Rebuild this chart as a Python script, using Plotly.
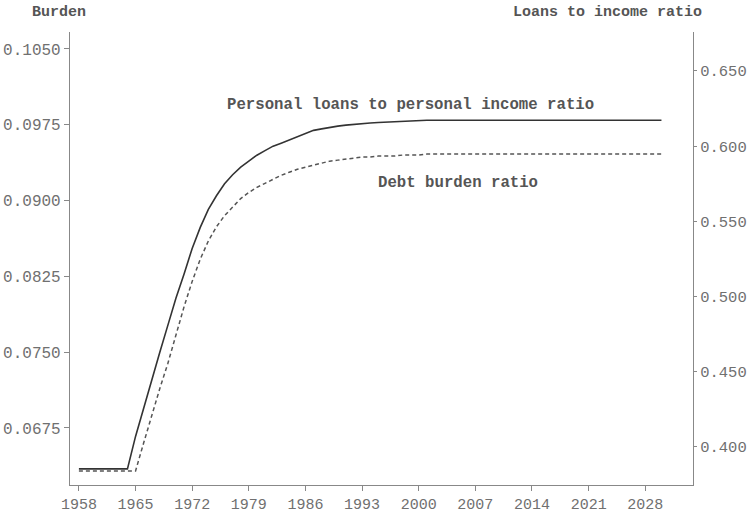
import plotly.graph_objects as go

years = list(range(1958, 2031))

loans_ratio = [0.3854] * 7 + [
    0.407, 0.426, 0.445, 0.463, 0.481, 0.499, 0.515, 0.532, 0.546, 0.558,
    0.567, 0.575, 0.581, 0.586, 0.590, 0.594, 0.597, 0.600, 0.602, 0.604,
    0.606, 0.608, 0.6105, 0.6115, 0.6125, 0.6133, 0.614, 0.6146, 0.615, 0.6154,
    0.6157, 0.616, 0.6162, 0.6164, 0.6166, 0.6168,
] + [0.6172] * 30

burden_ratio = [0.06324] * 8 + [
    0.0660, 0.0688, 0.0714, 0.0739, 0.0767, 0.0795, 0.0820, 0.0842, 0.0860,
    0.0874, 0.0885, 0.0894, 0.0902, 0.0908, 0.0913, 0.0917, 0.0921, 0.0925,
    0.0928, 0.0931, 0.0933, 0.0935, 0.0937, 0.0939, 0.0940, 0.0941, 0.0942,
    0.0943, 0.0943, 0.0944, 0.0944, 0.0944, 0.0945, 0.0945, 0.0945,
] + [0.0946] * 30

x_ticks = list(range(1958, 2029, 7))
left_ticks = [0.0675, 0.0750, 0.0825, 0.0900, 0.0975, 0.1050]
right_ticks = [0.400, 0.450, 0.500, 0.550, 0.600, 0.650]

FONT = "Liberation Mono"

fig = go.Figure()
fig.add_trace(go.Scatter(
    x=years, y=burden_ratio, mode="lines", yaxis="y",
    line=dict(color="#555555", width=1.5, dash="4px,3px"),
    name="Debt burden ratio"))
fig.add_trace(go.Scatter(
    x=years, y=loans_ratio, mode="lines", yaxis="y2",
    line=dict(color="#333333", width=1.6),
    name="Personal loans to personal income ratio"))

axis_common = dict(showgrid=False, zeroline=False, showline=True,
                   linecolor="#888888", linewidth=1.2, ticks="outside",
                   tickcolor="#888888", automargin=False)

yfont = dict(family=FONT, size=16, color="#707070")
y2font = dict(family=FONT, size=15.5, color="#707070")
xfont = dict(family=FONT, size=15, color="#707070")

fig.update_layout(
    width=747, height=518,
    margin=dict(l=70, r=54, t=32, b=33, autoexpand=False),
    plot_bgcolor="white", paper_bgcolor="white",
    showlegend=False,
    xaxis=dict(range=[1956.9, 2033.9], tickvals=x_ticks, tickfont=xfont,
               ticklen=5, **axis_common),
    yaxis=dict(range=[0.06185, 0.10668], tickvals=left_ticks,
               tickformat=".4f", tickfont=yfont, ticklen=5, **axis_common),
    yaxis2=dict(range=[0.3747, 0.6759], tickvals=right_ticks,
                tickformat=".3f", overlaying="y", side="right",
                tickfont=y2font, ticklen=3, **axis_common),
    annotations=[
        dict(text="<b>Burden</b>", xref="paper", yref="paper",
             x=-0.0177, y=1.042, xanchor="center", yanchor="middle",
             showarrow=False, font=dict(family=FONT, size=15, color="#555555")),
        dict(text="<b>Loans to income ratio</b>", xref="paper", yref="paper",
             x=0.862, y=1.042, xanchor="center", yanchor="middle",
             showarrow=False, font=dict(family=FONT, size=15, color="#555555")),
        dict(text="<b>Personal loans to personal income ratio</b>",
             xref="paper", yref="paper", x=0.2488, y=0.839,
             xanchor="left", yanchor="middle", showarrow=False,
             font=dict(family=FONT, size=15.7, color="#555555")),
        dict(text="<b>Debt burden ratio</b>", xref="paper", yref="paper",
             x=0.4912, y=0.6667, xanchor="left", yanchor="middle",
             showarrow=False, font=dict(family=FONT, size=15.7, color="#555555")),
    ],
)

fig.write_html("out.html",
               config={"displayModeBar": False},
               post_script="document.body.style.margin='0';")
